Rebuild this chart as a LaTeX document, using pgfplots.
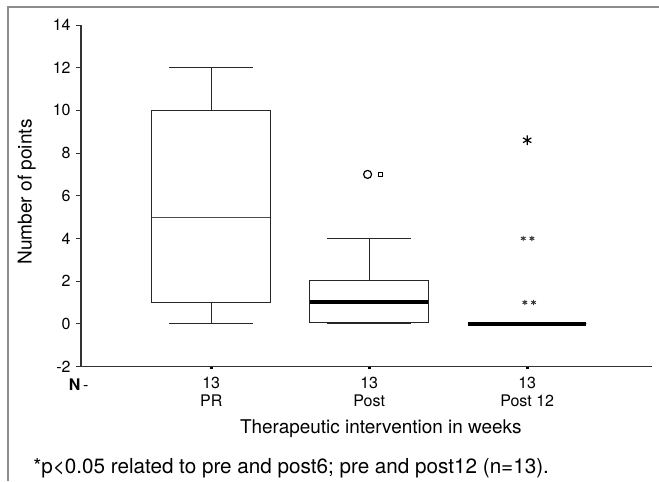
\documentclass[border=0pt]{standalone}
\usepackage{fontspec}
\setmainfont{TeX Gyre Heros}
\usepackage{pgfplots}
\pgfplotsset{compat=1.18}
\usepgfplotslibrary{statistics}

\begin{document}
\begin{tikzpicture}
% outer frame (left and top edges only are visible)
\draw[black!45, line width=1.1pt] (6pt,0pt) -- (6pt,355.5pt) -- (494.25pt,355.5pt);

\begin{axis}[
  at={(60.75pt,85.875pt)}, anchor=south west,
  scale only axis, width=428.25pt, height=256.125pt,
  xmin=0.176, xmax=3.79, ymin=-2, ymax=14,
  boxplot/draw direction=y,
  axis x line*=bottom, axis y line*=left,
  axis line style={black!80, line width=0.8pt, -},
  ytick={-2,0,...,14},
  xtick={1,2,3},
  xticklabels={{13\\PR},{13\\Post},{13\\Post 12}},
  tick align=outside,
  ytick style={black!80, line width=0.6pt, /pgfplots/major tick length=3.5pt},
  xtick style={black, line width=2.2pt, /pgfplots/major tick length=2.2pt},
  /pgf/number format/assume math mode=true,
  xticklabel style={align=center, font=\fontsize{12}{13.5}\selectfont},
  yticklabel style={font=\fontsize{12}{13.5}\selectfont},
  ylabel={Number of points},
  ylabel style={at={(axis description cs:-0.095,0.511)}, anchor=center,
    font=\fontsize{14.3}{16}\selectfont},
  xlabel={Therapeutic intervention in weeks},
  xlabel style={at={(axis description cs:0.525,-0.183)}, anchor=center,
    font=\fontsize{14.2}{16}\selectfont},
  clip=false,
]
% PR
\addplot[draw=black!85, line width=0.8pt,
  boxplot/every median/.style={black!70, line width=0.8pt},
  boxplot prepared={draw position=1, lower whisker=0, lower quartile=1,
    median=5, upper quartile=10, upper whisker=12,
    box extend=0.75, whisker extend=0.53}] coordinates {};
% Post
\addplot[draw=black!85, line width=0.8pt,
  boxplot/every median/.style={black, line width=3pt},
  boxplot prepared={draw position=2, lower whisker=0, lower quartile=0.05,
    median=1, upper quartile=2.05, upper whisker=4,
    box extend=0.75, whisker extend=0.53}] coordinates {};
% Post 12
\addplot[draw=black, line width=0.8pt,
  boxplot/every median/.style={black, line width=3pt},
  boxplot prepared={draw position=3, lower whisker=0, lower quartile=0,
    median=0, upper quartile=0, upper whisker=0,
    box extend=0.75, whisker extend=0.53}] coordinates {};

% outliers
\addplot[only marks, mark=o, mark size=3pt, black, line width=0.9pt] coordinates {(1.99,7)};
\addplot[only marks, mark=square, mark size=1.7pt, black, line width=0.7pt] coordinates {(2.07,7)};
% extremes
\addplot[only marks, mark=asterisk, mark size=3.6pt, black, line width=0.9pt] coordinates {(3,8.6)};
\addplot[only marks, mark=asterisk, mark size=2pt, black!80, line width=0.7pt]
  coordinates {(2.975,4) (3.03,4) (2.985,1) (3.04,1)};

\node[anchor=center, font=\fontsize{12}{14}\selectfont] at (axis description cs:-0.004,-0.054)
  {\textbf{N}\,-};
\end{axis}

\node[anchor=west, inner sep=0pt, font=\fontsize{15.5}{17}\selectfont] at (24.75pt,9.75pt)
  {*p<0.05 related to pre and post6; pre and post12 (n=13).};

\pgfresetboundingbox
\useasboundingbox (0pt,0pt) rectangle (494.25pt,360.75pt);
\end{tikzpicture}
\end{document}
